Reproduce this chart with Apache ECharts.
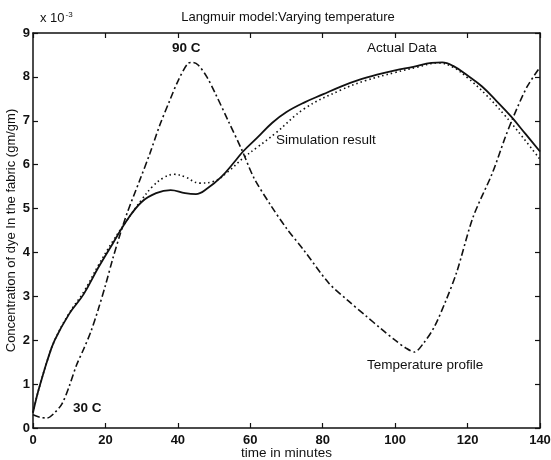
<!DOCTYPE html>
<html>
<head>
    <meta charset="utf-8">
    <title>Langmuir model</title>
    <script src="https://cdn.jsdelivr.net/npm/echarts@6/dist/echarts.min.js"></script>
    <style>
        html, body { margin: 0; padding: 0; background: #fff; }
        #chart { width: 551px; height: 460px; }
    </style>
</head>
<body>
<div id="chart"></div>
<script>
    // values, y in units of 1e-3 gm/gm, x in minutes
    var actualX = [0, 1, 2, 4, 6, 10, 14, 18, 22, 26, 30, 34, 38, 42, 45, 48, 52, 56, 58, 62, 66, 70, 75, 80, 85, 90, 95, 100, 105, 110, 113, 116, 120, 124, 128, 132, 136, 140];
    var actualY = [0.35, 0.7, 1.0, 1.55, 2.0, 2.6, 3.05, 3.65, 4.2, 4.74, 5.15, 5.35, 5.42, 5.35, 5.33, 5.45, 5.72, 6.1, 6.3, 6.62, 6.95, 7.2, 7.42, 7.6, 7.78, 7.93, 8.05, 8.15, 8.23, 8.32, 8.33, 8.25, 8.03, 7.78, 7.45, 7.1, 6.7, 6.3];

    var simX = [0, 1, 2, 4, 6, 10, 14, 18, 22, 26, 30, 33, 36, 39, 42, 46, 50, 54, 58, 62, 67, 75, 85, 92, 100, 106, 112, 116, 120, 125, 130, 135, 140];
    var simY = [0.35, 0.7, 1.0, 1.55, 2.0, 2.62, 3.1, 3.7, 4.25, 4.74, 5.2, 5.5, 5.7, 5.78, 5.72, 5.58, 5.62, 5.85, 6.15, 6.4, 6.72, 7.28, 7.7, 7.92, 8.1, 8.22, 8.32, 8.22, 7.98, 7.6, 7.15, 6.65, 6.12];

    var tempX = [0, 2, 4, 6, 8, 10, 12, 14, 16, 18, 20, 22, 24, 26, 29.5, 32.3, 35, 37.8, 40, 42.8, 44, 45.6, 48, 50.3, 53.9, 57.7, 61, 65.6, 70, 74.8, 81.7, 87, 92, 96, 100, 103, 105.3, 108, 110.8, 114, 117, 121.5, 126.8, 130.3, 132.6, 136.4, 140];
    var tempY = [0.3, 0.24, 0.23, 0.35, 0.55, 0.95, 1.43, 1.8, 2.2, 2.7, 3.25, 3.85, 4.4, 4.9, 5.65, 6.26, 6.9, 7.47, 7.9, 8.31, 8.33, 8.27, 8.0, 7.63, 7.0, 6.33, 5.7, 5.08, 4.55, 4.05, 3.3, 2.9, 2.55, 2.27, 2.0, 1.82, 1.73, 1.95, 2.3, 2.9, 3.55, 4.8, 5.8, 6.6, 7.08, 7.77, 8.22];

    var xTicks = [0, 20, 40, 60, 80, 100, 120, 140];
    var yTicks = [0, 1, 2, 3, 4, 5, 6, 7, 8, 9];

    function pairs(xs, ys) {
        var out = [];
        for (var i = 0; i < xs.length; i++) out.push([xs[i], ys[i]]);
        return out;
    }

    var font = 'Liberation Sans, Arial, sans-serif';
    var ink = '#111';

    function note(txt, x, y, weight) {
        return {
            type: 'text', x: x, y: y,
            style: { text: txt, fill: ink, font: (weight || 'normal') + ' 13.5px ' + font, verticalAlign: 'middle', align: 'left' }
        };
    }

    var chart = echarts.init(document.getElementById('chart'));

    var axisBase = {
        type: 'value',
        axisLine: { show: true, onZero: false, lineStyle: { color: ink, width: 1.5 } },
        axisTick: { show: true, inside: true, length: 5, lineStyle: { color: ink, width: 1.2 } },
        splitLine: { show: false }
    };

    var option = {
        animation: false,
        backgroundColor: '#fff',
        grid: { left: 33, right: 11, top: 33, bottom: 32, containLabel: false, outerBoundsMode: 'none' },
        xAxis: [
            Object.assign({}, axisBase, {
                min: xTicks[0], max: xTicks[xTicks.length - 1], interval: 20,
                axisLabel: { color: ink, fontFamily: font, fontSize: 13, fontWeight: 'bold', margin: 6 },
                name: 'time in minutes', nameLocation: 'middle', nameGap: 18, nameMoveOverlap: false,
                nameTextStyle: { color: ink, fontFamily: font, fontSize: 13.5, verticalAlign: 'top' }
            }),
            Object.assign({}, axisBase, {
                position: 'top', min: xTicks[0], max: xTicks[xTicks.length - 1], interval: 20,
                axisLabel: { show: false }
            })
        ],
        yAxis: [
            Object.assign({}, axisBase, {
                min: yTicks[0], max: yTicks[yTicks.length - 1], interval: 1,
                axisLabel: { color: ink, fontFamily: font, fontSize: 13, fontWeight: 'bold', margin: 3 },
                name: 'Concentration of dye In the fabric (gm/gm)', nameLocation: 'middle', nameGap: 15, nameMoveOverlap: false,
                nameTextStyle: { color: ink, fontFamily: font, fontSize: 13, verticalAlign: 'bottom' }
            }),
            Object.assign({}, axisBase, {
                position: 'right', min: yTicks[0], max: yTicks[yTicks.length - 1], interval: 1,
                axisLabel: { show: false }
            })
        ],
        series: [
            {
                name: 'Actual Data', type: 'line', smooth: 0.4, symbol: 'none',
                data: pairs(actualX, actualY),
                lineStyle: { color: ink, width: 1.8 }
            },
            {
                name: 'Simulation result', type: 'line', smooth: 0.4, symbol: 'none',
                data: pairs(simX, simY),
                lineStyle: { color: ink, width: 1.6, type: [1.5, 3] }
            },
            {
                name: 'Temperature profile', type: 'line', smooth: 0.3, symbol: 'none',
                data: pairs(tempX, tempY),
                lineStyle: { color: ink, width: 1.6, type: [7, 3, 2, 3] }
            }
        ],
        graphic: [
            { type: 'text', x: 288, y: 17, style: { text: 'Langmuir model:Varying temperature', fill: ink, font: '13px ' + font, align: 'center', verticalAlign: 'middle' } },
            { type: 'text', x: 40, y: 18, style: {
                text: '{b|x 10}{s|-3}', fill: ink, verticalAlign: 'middle',
                rich: { b: { font: '13px ' + font, fill: ink }, s: { font: '8px ' + font, fill: ink, verticalAlign: 'top', padding: [0, 0, 6, 1] } }
            } },
            note('90 C', 172, 48, 'bold'),
            note('Actual Data', 367, 48),
            note('Simulation result', 276, 140),
            note('Temperature profile', 367, 365),
            note('30 C', 73, 408, 'bold')
        ]
    };

    chart.setOption(option);
</script>
</body>
</html>
